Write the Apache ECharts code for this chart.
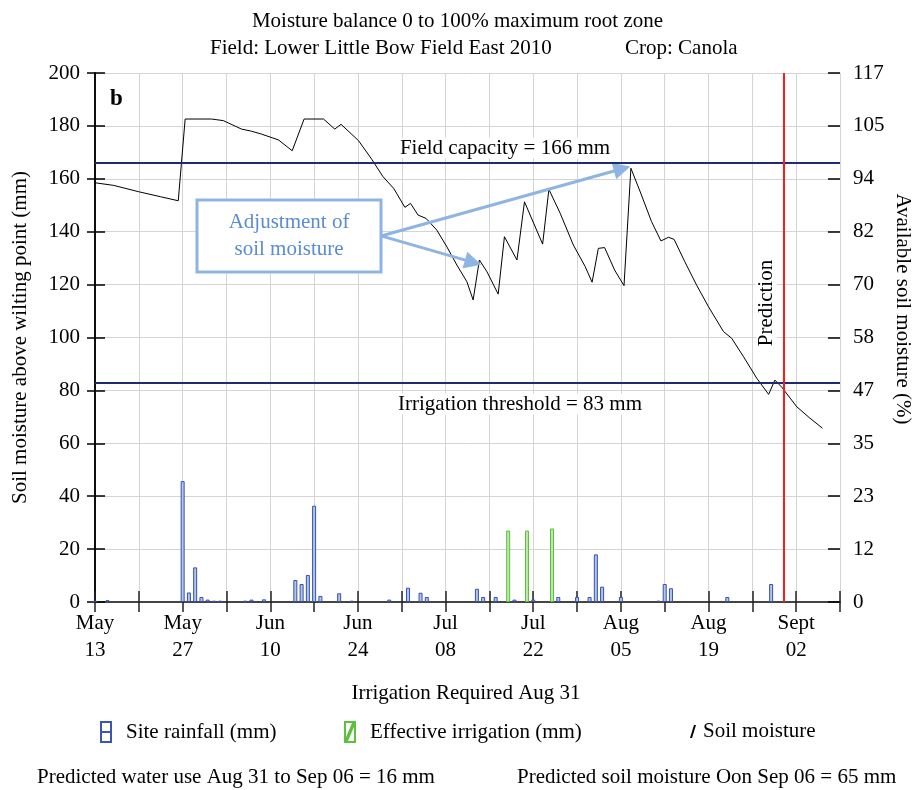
<!DOCTYPE html>
<html>
<head>
<meta charset="utf-8">
<title>Moisture balance</title>
<script src="https://cdn.jsdelivr.net/npm/echarts@6/dist/echarts.min.js"></script>
<style>
  html, body { margin: 0; padding: 0; background: #fff; }
  #chart { width: 915px; height: 790px; }
</style>
</head>
<body>
<div id="chart"></div>
<script>
// x values are days since May 13 (2010)
const xTickLabels = ['May\n13', 'May\n27', 'Jun\n10', 'Jun\n24', 'Jul\n08', 'Jul\n22', 'Aug\n05', 'Aug\n19', 'Sept\n02'];
const rightTickLabels = ['0', '12', '23', '35', '47', '58', '70', '82', '94', '105', '117'];

// soil moisture above wilting point (mm)
const moistureDay = [0, 3, 7, 10.5, 13.3, 14.4, 18.6, 20.5, 23.4, 25, 26.6, 29.3, 31.5, 33.4, 36.5, 38.3, 39.3,
  42.1, 44.2, 46, 47.7, 49.5, 50.4, 51.6, 52.9, 54.6, 56.2, 57.8, 59.4, 60.4, 61.4, 62.6, 64.4, 65.4, 67.4,
  68.6, 71.5, 72.5, 74.3, 76.4, 78.3, 79.4, 80.4, 81.4, 83, 84.5, 85.6, 87.1, 88.9, 90.4, 91.6, 92.5, 94.2,
  96.1, 98, 100.4, 101.7, 103.6, 105.7, 107.6, 108.6, 109.7, 112.1, 114.2, 116.2];
const moistureMm = [158.5, 157.5, 155.1, 153.2, 151.7, 182.6, 182.6, 182, 178.8, 178, 176.9, 174.7, 170.6, 182.6, 182.6, 178.8, 180.6,
  174.4, 167.4, 160.8, 156.4, 149.2, 150.7, 146.3, 145, 140.6, 134.3, 127.4, 121.1, 114.2, 129.3, 124.9, 116.4, 138.1, 129.3,
  151.3, 135.3, 156, 147, 135, 126.8, 120.9, 133.7, 134, 125.5, 119.6, 164, 155, 143.8, 136.5, 137.9, 137.1, 128.7,
  119.8, 111.6, 102.2, 99.7, 92.7, 84.6, 78.5, 83.9, 81.2, 73.8, 69.5, 65.7];

// site rainfall (mm)
const rainDay = [0, 2, 14, 15, 16, 17, 18, 19, 20, 24, 25, 27, 32, 33, 34, 35, 36, 39, 41, 47, 50, 52, 53,
  61, 62, 64, 67, 70, 74, 77, 79, 80, 81, 84, 90, 91, 92, 101, 108];
const rainMm = [0.5, 0.7, 45.7, 3.6, 13.1, 1.9, 0.9, 0.5, 0.5, 0.5, 0.9, 1.0, 8.3, 6.8, 10.2, 36.4, 2.3, 3.3, 0.5, 0.9, 5.4, 3.5, 1.9,
  5.0, 1.9, 1.9, 0.9, 0.9, 1.9, 1.9, 1.9, 18.0, 5.8, 1.9, 0.5, 6.8, 5.2, 1.9, 6.8];

// effective irrigation (mm)
const irrigDay = [66, 69, 73];
const irrigMm = [27.0, 27.0, 27.8];

const fieldCapacity = 166;
const irrigationThreshold = 83;
const irrigationDay = 110;   // Aug 31

function pairs(xs, ys) {
  return xs.map(function (x, i) { return [x, ys[i]]; });
}

const serif = 'Liberation Serif';
const arrowBlue = '#8db4e2';

let myChart = echarts.init(document.getElementById('chart'));

let xBase = { type: 'value', min: 0, max: 119, interval: 7 };
let yBase = { type: 'value', min: 0, max: 200, interval: 20 };

let option = {
  animation: false,
  title: [
    { text: 'Moisture balance 0 to 100% maximum root zone', left: 'center', top: 6,
      textStyle: { fontFamily: serif, fontSize: 21, fontWeight: 'normal', color: '#000' } },
    { text: 'Field: Lower Little Bow Field East 2010', left: 205, top: 33,
      textStyle: { fontFamily: serif, fontSize: 21, fontWeight: 'normal', color: '#000' } },
    { text: 'Crop: Canola', left: 620, top: 33,
      textStyle: { fontFamily: serif, fontSize: 21, fontWeight: 'normal', color: '#000' } }
  ],
  grid: { left: 95, right: 75, top: 73, bottom: 188, containLabel: false },
  legend: [
    { left: 95, top: 716, itemWidth: 12, itemHeight: 22, selectedMode: false,
      textStyle: { fontFamily: serif, fontSize: 21, color: '#000', padding: [0, 0, 0, 9] },
      itemStyle: { borderWidth: 0 },
      data: [{ name: 'Site rainfall (mm)', itemStyle: { color: '#3b55b5' },
        icon: 'path://M0,0H12V22H0Z M2,2V10H10V2Z M2,12V20H10V12Z' }] },
    { left: 339, top: 716, itemWidth: 12, itemHeight: 22, selectedMode: false,
      textStyle: { fontFamily: serif, fontSize: 21, color: '#000', padding: [0, 0, 0, 9] },
      itemStyle: { borderWidth: 0 },
      data: [{ name: 'Effective irrigation (mm)', itemStyle: { color: '#5cc03c' },
        icon: 'path://M0,0H12V22H0Z M2,2L2,16L8,2Z M10,6L4,20L10,20Z' }] },
    { left: 685, top: 716, itemWidth: 6, itemHeight: 13, selectedMode: false,
      textStyle: { fontFamily: serif, fontSize: 21, color: '#000', padding: [0, 0, 0, 2] },
      itemStyle: { borderWidth: 0 },
      data: [{ name: 'Soil moisture', itemStyle: { color: '#000' },
        icon: 'path://M4,0L6,0L2,13L0,13Z' }] }
  ],
  xAxis: [
    Object.assign({}, xBase, {
      position: 'bottom',
      axisLine: { lineStyle: { color: '#444', width: 2 } },
      axisTick: { show: true, length: 10, lineStyle: { color: '#222', width: 1.5 } },
      axisLabel: {
        margin: 8, fontFamily: serif, fontSize: 21, lineHeight: 27, color: '#000',
        formatter: function (v) {
          let k = Math.round(v / 14);
          if (Math.abs(v - k * 14) < 0.01 && k < xTickLabels.length) return xTickLabels[k];
          return '';
        }
      },
      splitLine: { show: true, lineStyle: { color: '#d4d4d4', width: 1 } }
    }),
    // second axis only draws the inner half of the crossing ticks
    Object.assign({}, xBase, {
      position: 'bottom',
      axisLine: { show: false },
      axisTick: { show: true, inside: true, length: 11, lineStyle: { color: '#222', width: 1.5 } },
      axisLabel: { show: false },
      splitLine: { show: false }
    })
  ],
  yAxis: [
    Object.assign({}, yBase, {
      position: 'left',
      name: 'Soil moisture above wilting point (mm)',
      nameLocation: 'middle',
      nameGap: 64,
      nameTextStyle: { fontFamily: serif, fontSize: 21, color: '#000' },
      axisLine: { show: true, lineStyle: { color: '#000', width: 1.5 } },
      axisTick: { show: true, length: 8, lineStyle: { color: '#000', width: 1.5 } },
      axisLabel: { margin: 15, fontFamily: serif, fontSize: 21, color: '#000' },
      splitLine: { show: true, lineStyle: { color: '#d4d4d4', width: 1 } }
    }),
    Object.assign({}, yBase, {
      position: 'right',
      axisLine: { show: true, lineStyle: { color: '#000', width: 1.5 } },
      axisTick: { show: true, length: 7, lineStyle: { color: '#000', width: 1.5 } },
      axisLabel: {
        margin: 13, fontFamily: serif, fontSize: 21, color: '#000',
        formatter: function (v) { return rightTickLabels[Math.round(v / 20)]; }
      },
      splitLine: { show: false }
    }),
    Object.assign({}, yBase, {
      position: 'left',
      axisLine: { show: false },
      axisTick: { show: true, inside: true, length: 10, lineStyle: { color: '#000', width: 1.5 } },
      axisLabel: { show: false },
      splitLine: { show: false }
    }),
    Object.assign({}, yBase, {
      position: 'right',
      axisLine: { show: false },
      axisTick: { show: true, inside: true, length: 12, lineStyle: { color: '#000', width: 1.5 } },
      axisLabel: { show: false },
      splitLine: { show: false }
    })
  ],
  series: [
    {
      name: 'Site rainfall (mm)',
      type: 'bar',
      barWidth: 4,
      barGap: '-100%',
      data: pairs(rainDay, rainMm),
      itemStyle: { color: '#b3c5ec', borderColor: '#3651a8', borderWidth: 1 }
    },
    {
      name: 'Effective irrigation (mm)',
      type: 'bar',
      barWidth: 4,
      barGap: '-100%',
      data: pairs(irrigDay, irrigMm),
      itemStyle: { color: '#bde8ad', borderColor: '#5cbf3a', borderWidth: 1 }
    },
    {
      name: 'Soil moisture',
      type: 'line',
      data: pairs(moistureDay, moistureMm),
      symbol: 'none',
      lineStyle: { color: '#000', width: 1 },
      z: 3,
      markLine: {
        silent: true,
        symbol: 'none',
        label: { show: false },
        data: [
          { yAxis: fieldCapacity, lineStyle: { color: '#1f2a70', width: 2, type: 'solid' } },
          { yAxis: irrigationThreshold, lineStyle: { color: '#1f2a70', width: 2, type: 'solid' } },
          { xAxis: irrigationDay, lineStyle: { color: '#ff1a1a', width: 2, type: 'solid' } }
        ]
      }
    },
    {
      // callout arrows
      type: 'lines',
      coordinateSystem: 'cartesian2d',
      silent: true,
      symbol: ['none', 'triangle'],
      symbolSize: [13, 17],
      lineStyle: { color: arrowBlue, width: 3, opacity: 1, curveness: 0 },
      z: 4,
      data: [
        { coords: [[45.7, 138.4], [84.2, 163.8]] },
        { coords: [[45.7, 138.4], [60.4, 128.4]] }
      ]
    }
  ],
  graphic: [
    { type: 'text', left: 110, top: 88, style: { text: 'b', font: 'bold 23px "Liberation Serif"', fill: '#000' } },
    { type: 'rect', shape: { x: 197, y: 200, width: 184, height: 72 },
      style: { fill: '#fff', stroke: arrowBlue, lineWidth: 3 }, z: 10 },
    { type: 'text', x: 289, y: 236, z: 11,
      style: { text: 'Adjustment of\nsoil moisture', font: '21px "Liberation Serif"', fill: '#5b8bd0',
        textAlign: 'center', textVerticalAlign: 'middle', lineHeight: 27 } },
    { type: 'text', x: 505, y: 148, z: 11,
      style: { text: 'Field capacity = 166 mm', font: '21px "Liberation Serif"', fill: '#000',
        textAlign: 'center', textVerticalAlign: 'middle', backgroundColor: '#fff' } },
    { type: 'text', x: 520, y: 404, z: 11,
      style: { text: 'Irrigation threshold = 83 mm', font: '21px "Liberation Serif"', fill: '#000',
        textAlign: 'center', textVerticalAlign: 'middle', backgroundColor: '#fff' } },
    { type: 'text', x: 766, y: 303, rotation: Math.PI / 2, z: 11,
      style: { text: 'Prediction', font: '21px "Liberation Serif"', fill: '#000',
        textAlign: 'center', textVerticalAlign: 'middle', backgroundColor: '#fff' } },
    { type: 'text', x: 903, y: 309, rotation: -Math.PI / 2, z: 11,
      style: { text: 'Available soil moisture (%)', font: '21px "Liberation Serif"', fill: '#000',
        textAlign: 'center', textVerticalAlign: 'middle' } },
    { type: 'text', x: 466, y: 693,
      style: { text: 'Irrigation Required Aug 31', font: '21px "Liberation Serif"', fill: '#000',
        textAlign: 'center', textVerticalAlign: 'middle' } },
    { type: 'text', x: 37, y: 777,
      style: { text: 'Predicted water use Aug 31 to Sep 06 = 16 mm', font: '21px "Liberation Serif"', fill: '#000',
        textAlign: 'left', textVerticalAlign: 'middle' } },
    { type: 'text', x: 517, y: 777,
      style: { text: 'Predicted soil moisture Oon Sep 06 = 65 mm', font: '21px "Liberation Serif"', fill: '#000',
        textAlign: 'left', textVerticalAlign: 'middle' } }
  ]
};

myChart.setOption(option);
</script>
</body>
</html>
